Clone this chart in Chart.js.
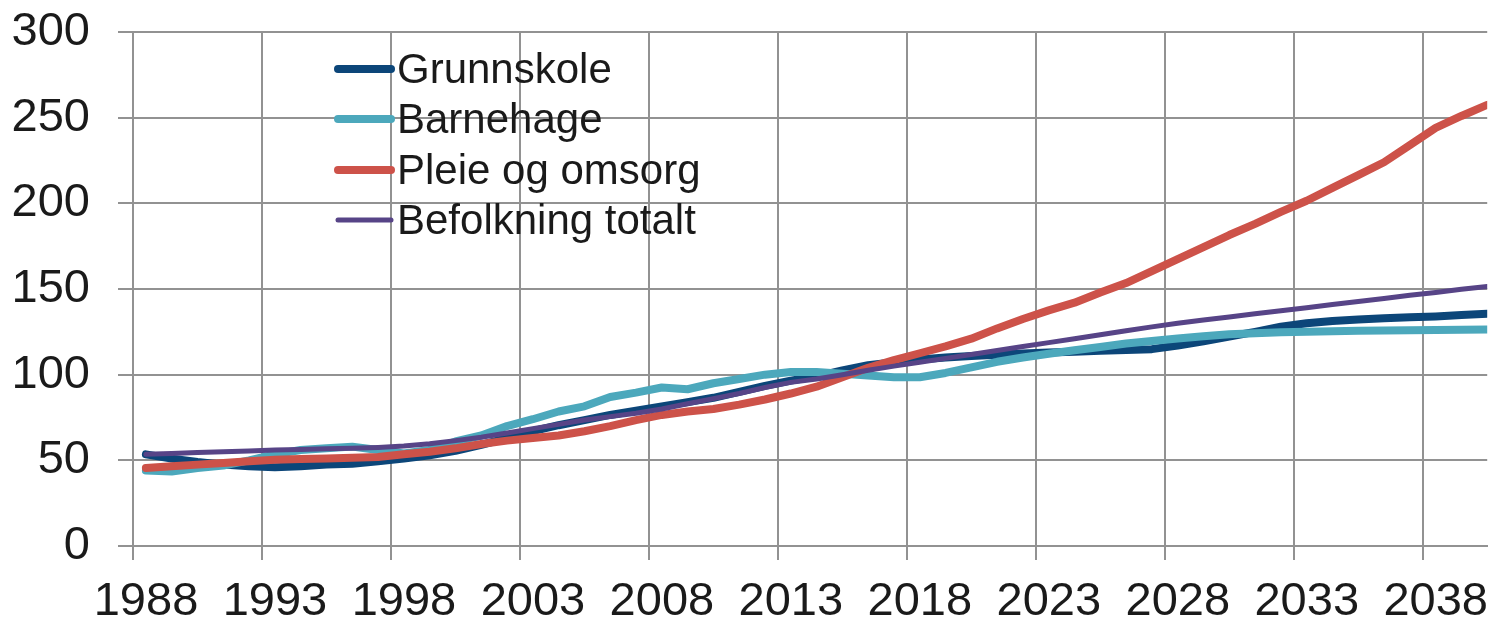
<!DOCTYPE html>
<html>
<head>
<meta charset="utf-8">
<script src="https://cdn.jsdelivr.net/npm/chart.js@4.4.1/dist/chart.umd.min.js"></script>
<style>
  html, body { margin: 0; padding: 0; background: #fff; }
  #wrap { width: 1489px; height: 623px; position: relative; }
</style>
</head>
<body>
<div id="wrap"><canvas id="chart"></canvas></div>
<script>
const years = [];
for (let y = 1988; y <= 2040; y++) years.push(y);

const seriesNames = ['Grunnskole', 'Barnehage', 'Pleie og omsorg', 'Befolkning totalt'];

const grunnskole = [53.5, 51, 49, 47.5, 46.5, 46, 46.5, 47.5, 48, 49.5,
  51, 53, 55.5, 59, 63, 67, 70.5, 73.5, 76.5, 79,
  81.5, 84, 86.5, 90, 93.5, 96.5, 99, 102.5, 105.5, 107.2,
  108.8, 110, 110.9, 111.6, 112.3, 112.9, 113.4, 113.9, 114.4, 114.9,
  117, 119.5, 122.3, 125, 128, 130, 131.3, 132.2, 132.9, 133.5,
  134, 134.8, 135.6];

const barnehage = [44, 43.5, 45.5, 47, 50, 53.5, 56, 57, 58, 56,
  54, 56, 61, 64.5, 70, 74, 78.5, 81.5, 87, 89.5,
  92.5, 91.5, 95, 97.5, 100, 101.5, 101.5, 100.5, 99.5, 98.5,
  98.5, 101, 104.3, 107.5, 110, 112.2, 114.3, 116.2, 118.2, 119.7,
  121.1, 122.4, 123.6, 124.2, 124.8, 125.1, 125.4, 125.6, 125.8, 125.9,
  126, 126.2, 126.4];

const pleie = [45.5, 46.5, 47.5, 48.5, 49.5, 50.3, 50.8, 51, 51.5, 52,
  53.5, 55, 57, 59.5, 61.5, 63, 64.5, 67, 70, 73.5,
  76.5, 78.5, 80, 82.5, 85.5, 89, 93, 98.5, 104, 108.5,
  112.5, 116.5, 121, 127, 132.5, 137.5, 142, 148, 153.5, 160.5,
  167.5, 174.5, 181.5, 188, 195, 201.5, 209, 216.5, 224, 234,
  244, 251, 257.5];

const befolkning = [53.5, 54, 54.5, 55, 55.5, 56, 56.3, 56.7, 57, 57.5,
  58.3, 59.7, 61.5, 63.5, 66, 68.5, 71, 73.5, 75.5, 77.5,
  80, 83, 86, 89, 92.5, 95.5, 97.5, 100, 102.6, 105,
  107.2, 109.5, 111.8, 114.1, 116.4, 118.7, 121, 123.3, 125.6, 127.9,
  130, 131.9, 133.7, 135.5, 137.3, 139.1, 140.9, 142.7, 144.5, 146.3,
  148, 149.8, 151.5];

const yTicks = [0, 50, 100, 150, 200, 250, 300];
const xTickYears = [1988, 1993, 1998, 2003, 2008, 2013, 2018, 2023, 2028, 2033, 2038];

const colors = ['#0c4679', '#4ca8bc', '#cd5249', '#574487'];
const widths = [8, 8, 8, 5];

const FONT = '"Liberation Sans", Arial, sans-serif';
const GRID = '#929292';

function pts(vals) {
  return vals.map((v, i) => ({ x: years[i], y: v }));
}

const allSeries = [grunnskole, barnehage, pleie, befolkning];
const datasets = allSeries.map((s, i) => ({
  label: seriesNames[i],
  data: pts(s),
  borderColor: colors[i],
  backgroundColor: colors[i],
  borderWidth: widths[i],
  pointRadius: 0,
  tension: 0,
  borderCapStyle: 'round',
  borderJoinStyle: 'round',
  order: allSeries.length - 1 - i
}));

// legend drawn inside the plot, like the original
const innerLegend = {
  id: 'innerLegend',
  afterDatasetsDraw(chart) {
    const ctx = chart.ctx;
    ctx.save();
    ctx.font = '42px ' + FONT;
    ctx.textBaseline = 'middle';
    ctx.fillStyle = '#1a1a1a';
    const rows = [69, 119, 170, 220];
    chart.data.datasets.forEach((ds, i) => {
      const y = rows[i];
      ctx.strokeStyle = ds.borderColor;
      ctx.lineWidth = ds.borderWidth;
      ctx.lineCap = 'round';
      ctx.beginPath();
      ctx.moveTo(338, y);
      ctx.lineTo(391, y);
      ctx.stroke();
      ctx.fillText(ds.label, 397, y + 2);
    });
    ctx.restore();
  }
};

new Chart(document.getElementById('chart'), {
  type: 'line',
  data: { datasets: datasets },
  plugins: [innerLegend],
  options: {
    responsive: true,
    maintainAspectRatio: false,
    animation: false,
    layout: { padding: { top: 32, right: 0, bottom: 0, left: 0 } },
    plugins: {
      legend: { display: false },
      tooltip: { enabled: false }
    },
    scales: {
      x: {
        type: 'linear',
        min: 1987.5,
        max: 2040,
        afterBuildTicks(scale) {
          scale.ticks = xTickYears.map(y => ({ value: y - 0.5 }));
        },
        afterFit(scale) { scale.height = 77; },
        grid: { color: GRID, lineWidth: 2, tickLength: 14, drawTicks: true },
        border: { color: GRID, width: 2 },
        ticks: {
          autoSkip: false,
          maxRotation: 0,
          minRotation: 0,
          labelOffset: 13,
          padding: 14,
          color: '#1a1a1a',
          font: { family: FONT, size: 47 },
          callback: v => String(v + 0.5)
        }
      },
      y: {
        min: 0,
        max: 300,
        afterBuildTicks(scale) {
          scale.ticks = yTicks.map(v => ({ value: v }));
        },
        afterFit(scale) {
          scale.width = 133;
          scale.paddingTop = 0;
          scale.paddingBottom = 0;
        },
        grid: { color: GRID, lineWidth: 2, tickLength: 15, drawTicks: true },
        border: { color: GRID, width: 2 },
        ticks: {
          padding: 28,
          color: '#1a1a1a',
          font: { family: FONT, size: 47 }
        }
      }
    }
  }
});
</script>
</body>
</html>
